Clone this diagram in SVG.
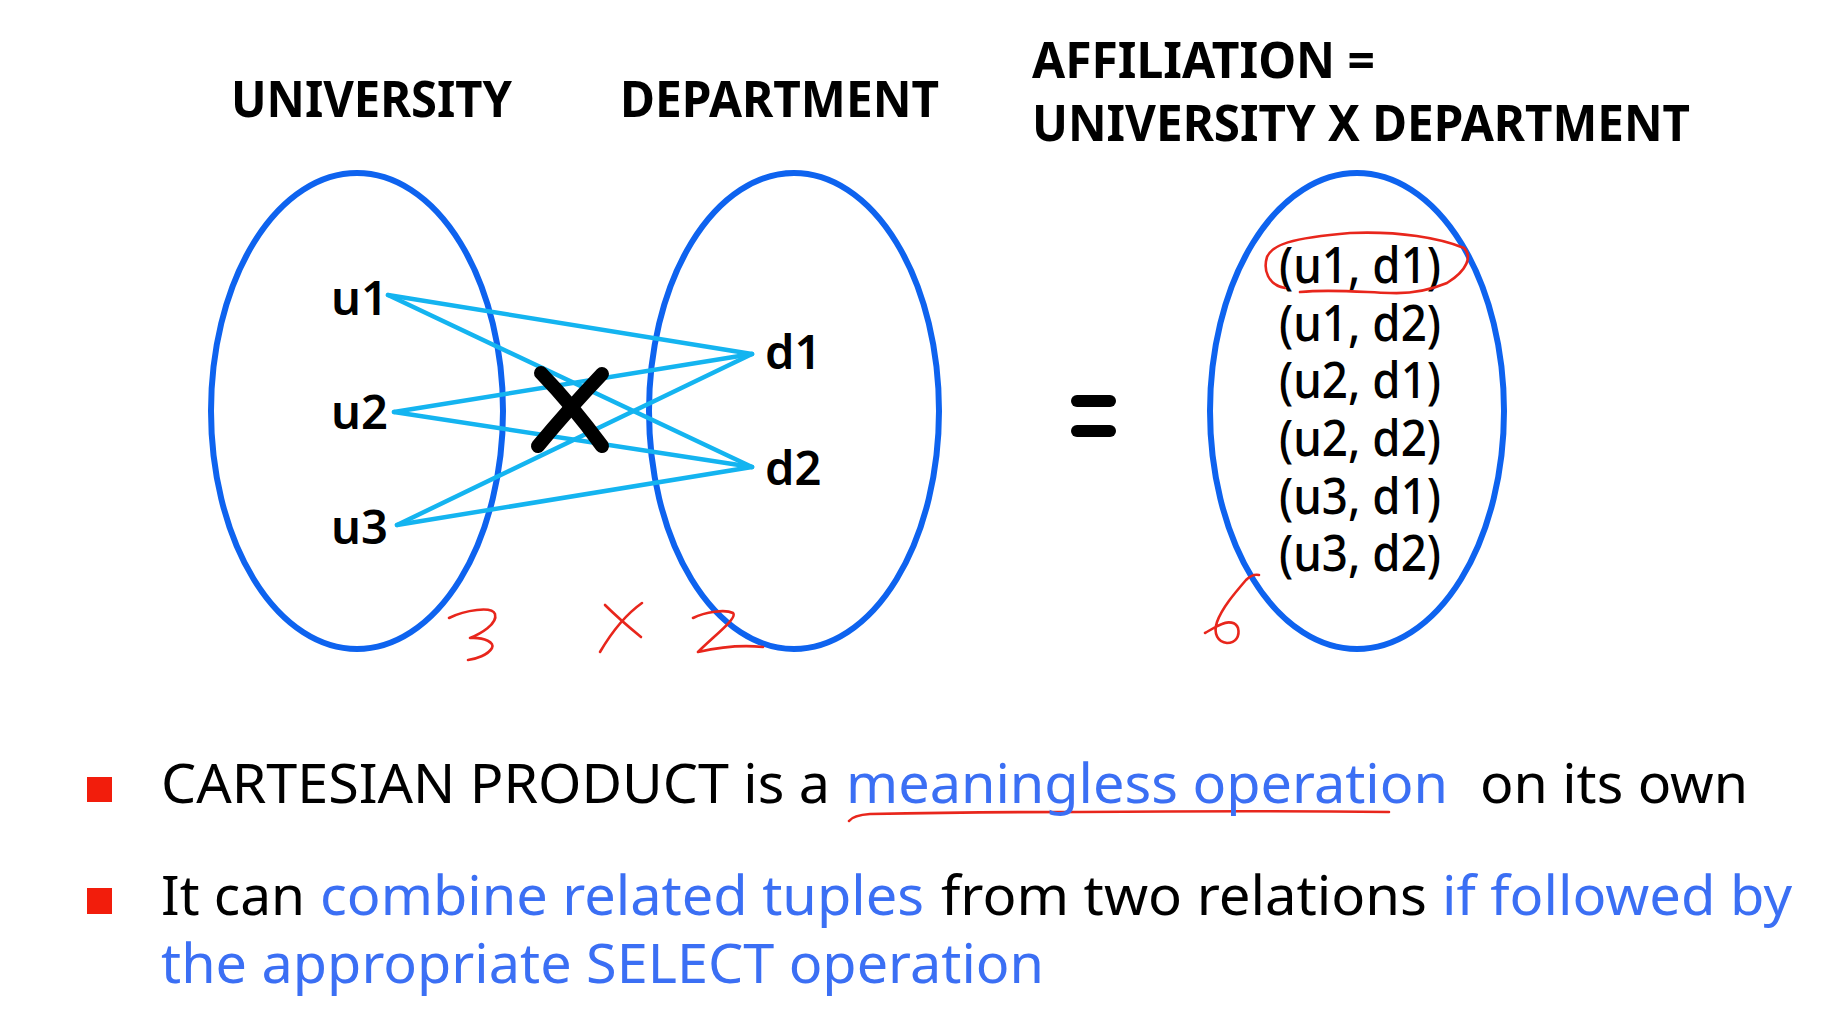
<svg xmlns="http://www.w3.org/2000/svg" width="1827" height="1009" viewBox="0 0 1827 1009">
<style>
.t{font-family:"Noto Sans","Open Sans","DejaVu Sans",sans-serif;fill:#000}
.title{font-size:51px;font-weight:700}
.lbl{font-size:47px;font-weight:600}
.tup{font-size:50px;font-weight:500}
.body{font-size:55px;font-weight:400}
.blue{fill:#3b6ff4}
.set{fill:none;stroke:#0e63ef;stroke-width:6}
.edge{fill:none;stroke:#14b4f0;stroke-width:4.5;stroke-linecap:round}
.ink{fill:none;stroke:#e8261c;stroke-width:2.6;stroke-linecap:round;stroke-linejoin:round}
.bullet{fill:#f21d0c}
</style>
<rect width="1827" height="1009" fill="#fff"/>

<g id="titles">
<text class="t title" x="231" y="117" textLength="281" lengthAdjust="spacingAndGlyphs">UNIVERSITY</text>
<text class="t title" x="620" y="117" textLength="319" lengthAdjust="spacingAndGlyphs">DEPARTMENT</text>
<text class="t title" x="1032" y="78" textLength="343" lengthAdjust="spacingAndGlyphs">AFFILIATION =</text>
<text class="t title" x="1032" y="141" textLength="658" lengthAdjust="spacingAndGlyphs">UNIVERSITY X DEPARTMENT</text>
</g>

<g id="university">
<ellipse class="set" cx="357" cy="411" rx="146" ry="238"/>
<text class="t lbl" x="331" y="315">u1</text>
<text class="t lbl" x="331" y="429">u2</text>
<text class="t lbl" x="331" y="544">u3</text>
</g>

<g id="department">
<ellipse class="set" cx="794" cy="411" rx="145" ry="238"/>
<text class="t lbl" x="765" y="369">d1</text>
<text class="t lbl" x="765" y="485">d2</text>
</g>

<g id="connectors">
<line class="edge" x1="388" y1="295" x2="752" y2="354"/>
<line class="edge" x1="388" y1="295" x2="752" y2="467"/>
<line class="edge" x1="394" y1="412" x2="752" y2="354"/>
<line class="edge" x1="394" y1="412" x2="752" y2="467"/>
<line class="edge" x1="397" y1="525" x2="752" y2="354"/>
<line class="edge" x1="397" y1="525" x2="752" y2="467"/>
</g>

<g id="times">
<path d="M541 373 Q572 405 602 446" fill="none" stroke="#000" stroke-width="14" stroke-linecap="round"/>
<path d="M602 374 Q566 412 538 446" fill="none" stroke="#000" stroke-width="14" stroke-linecap="round"/>
</g>

<g id="equals">
<line x1="1077" y1="401" x2="1110" y2="401" stroke="#000" stroke-width="12" stroke-linecap="round"/>
<line x1="1077" y1="431" x2="1110" y2="431" stroke="#000" stroke-width="12" stroke-linecap="round"/>
</g>

<g id="affiliation">
<ellipse class="set" cx="1357" cy="411" rx="147" ry="238"/>
<text class="t tup" x="1279" y="283" textLength="162" lengthAdjust="spacingAndGlyphs">(u1, d1)</text>
<text class="t tup" x="1279" y="341" textLength="162" lengthAdjust="spacingAndGlyphs">(u1, d2)</text>
<text class="t tup" x="1279" y="398" textLength="162" lengthAdjust="spacingAndGlyphs">(u2, d1)</text>
<text class="t tup" x="1279" y="456" textLength="162" lengthAdjust="spacingAndGlyphs">(u2, d2)</text>
<text class="t tup" x="1279" y="514" textLength="162" lengthAdjust="spacingAndGlyphs">(u3, d1)</text>
<text class="t tup" x="1279" y="571" textLength="162" lengthAdjust="spacingAndGlyphs">(u3, d2)</text>
</g>

<g id="annotations">
<path class="ink" d="M449 618 C465 610 492 606 495 614 C498 624 480 634 470 638 C485 637 495 643 492 648 C488 655 476 659 468 660"/>
<path class="ink" d="M605 605 C615 615 630 628 641 637"/>
<path class="ink" d="M642 603 C625 615 610 635 600 652"/>
<path class="ink" d="M693 618 C705 612 725 609 733 613 C738 618 715 635 698 652 C720 647 745 645 763 647"/>
<path class="ink" d="M1285 288 C1268 285 1263 270 1267 257 C1272 245 1290 238 1350 233 C1400 231 1440 238 1464 248 C1472 256 1468 270 1447 283 C1430 290 1410 294 1390 293 C1360 292 1330 289 1300 292"/>
<path class="ink" d="M1259 575 C1254 574 1250 576 1246 580 C1234 594 1222 608 1217 622 C1213 634 1218 642 1227 643 C1236 643 1240 636 1238 628 C1236 622 1228 621 1222 624 C1214 627 1209 631 1205 633"/>
<path class="ink" d="M849 821 C852 817 857 815 870 814 C920 813 1000 812 1080 812 C1200 811 1300 811 1389 812"/>
</g>

<g id="bullets">
<rect class="bullet" x="87" y="777" width="25" height="25"/>
<rect class="bullet" x="87" y="888" width="25" height="26"/>
<text class="t body" x="161" y="803" textLength="669" lengthAdjust="spacingAndGlyphs">CARTESIAN PRODUCT is a</text>
<text class="t body blue" x="846" y="803" textLength="602" lengthAdjust="spacingAndGlyphs">meaningless operation</text>
<text class="t body" x="1480" y="803" textLength="268" lengthAdjust="spacingAndGlyphs">on its own</text>
<text class="t body" x="161" y="915" textLength="144" lengthAdjust="spacingAndGlyphs">It can</text>
<text class="t body blue" x="320" y="915" textLength="604" lengthAdjust="spacingAndGlyphs">combine related tuples</text>
<text class="t body" x="941" y="915" textLength="486" lengthAdjust="spacingAndGlyphs">from two relations</text>
<text class="t body blue" x="1442" y="915" textLength="350" lengthAdjust="spacingAndGlyphs">if followed by</text>
<text class="t body blue" x="161" y="983" textLength="883" lengthAdjust="spacingAndGlyphs">the appropriate SELECT operation</text>
</g>
</svg>
